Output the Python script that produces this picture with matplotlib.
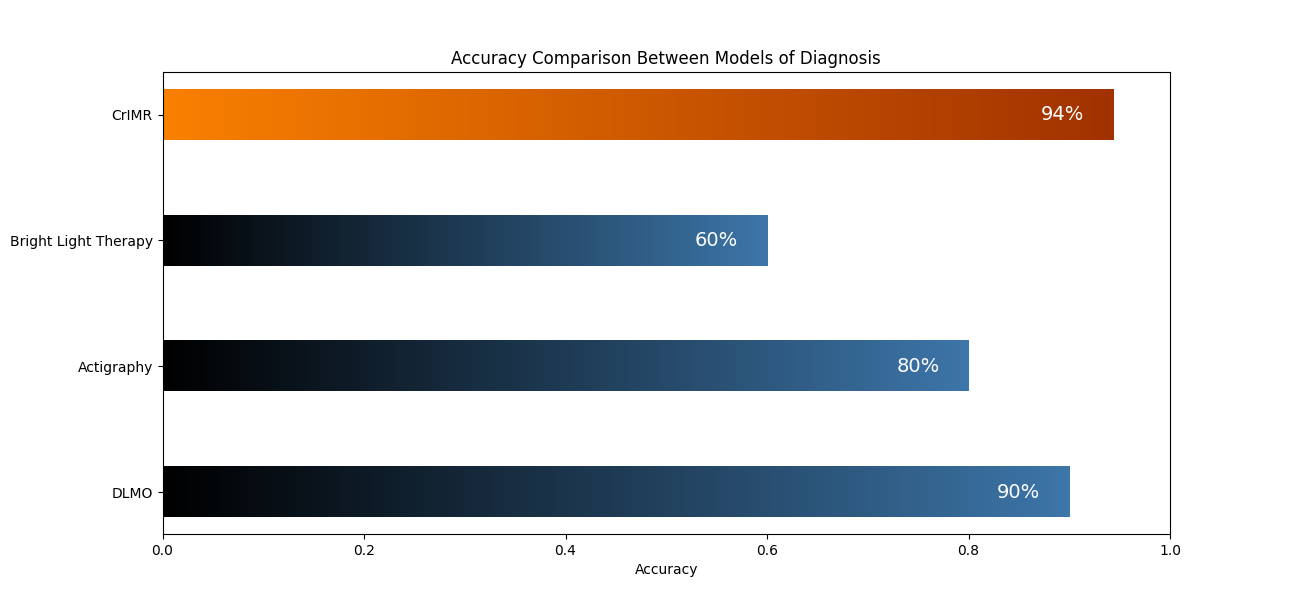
import numpy as np
import matplotlib
matplotlib.use("Agg")
import matplotlib.pyplot as plt
from matplotlib.colors import LinearSegmentedColormap

# data (bottom to top)
models = ["DLMO", "Actigraphy", "Bright Light Therapy", "CrIMR"]
accuracy = [0.90, 0.80, 0.60, 0.943]
labels = ["90%", "80%", "60%", "94%"]

blue_cmap = LinearSegmentedColormap.from_list("blue_grad", ["#000000", "#3d76a9"])
orange_cmap = LinearSegmentedColormap.from_list("orange_grad", ["#fa8000", "#a13200"])

fig, ax = plt.subplots(figsize=(13, 6))

bar_h = 0.4
gradient = np.linspace(0, 1, 256).reshape(1, -1)

for i, (name, val, lab) in enumerate(zip(models, accuracy, labels)):
    cmap = orange_cmap if name == "CrIMR" else blue_cmap
    ax.imshow(gradient, aspect="auto", cmap=cmap,
              extent=[0, val, i - bar_h / 2, i + bar_h / 2], zorder=2)
    ax.text(val - 0.05, i, lab, color="white", fontsize=14,
            ha="center", va="center", zorder=3)

ax.set_yticks(range(len(models)))
ax.set_yticklabels(models)
ax.set_xlim(0, 1.0)
ax.set_ylim(-0.332, 3.338)
ax.set_xlabel("Accuracy")
ax.set_title("Accuracy Comparison Between Models of Diagnosis")

plt.savefig("out.png", dpi=100)
